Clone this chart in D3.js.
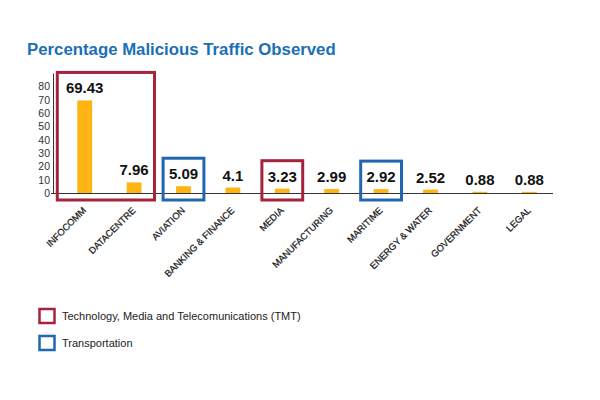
<!DOCTYPE html>
<html><head><meta charset="utf-8">
<script src="https://cdn.jsdelivr.net/npm/d3@7"></script>
<style>body{margin:0;background:#fff;}svg{display:block;font-family:"Liberation Sans",Arial,sans-serif;}</style>
</head><body>
<svg id="c" width="600" height="400"></svg>
<script>
const categories = ["INFOCOMM","DATACENTRE","AVIATION","BANKING & FINANCE","MEDIA","MANUFACTURING","MARITIME","ENERGY & WATER","GOVERNMENT","LEGAL"];
const values = [69.43,7.96,5.09,4.1,3.23,2.99,2.92,2.52,0.88,0.88];
const yTicks = [0,10,20,30,40,50,60,70,80];
const groupNames = ["Technology, Media and Telecomunications (TMT)","Transportation"];
const boxGroups = [["INFOCOMM","DATACENTRE"],["AVIATION"],["MEDIA"],["MARITIME"]];
const boxGroupType = [0,1,0,1];

const colors = ["#a4243b","#2166b0"];
const svg = d3.select("#c");
const x = d3.scaleBand().domain(categories).range([60,554]).paddingInner(0.7).paddingOuter(0.35);
const y = d3.scaleLinear().domain([0,90]).range([193,73]);

svg.append("text").attr("x",27).attr("y",55).attr("fill","#1a6fb5")
  .attr("font-weight","bold").attr("font-size",16.8).text("Percentage Malicious Traffic Observed");

// y axis
const ya = svg.append("g").attr("transform","translate(53,0)")
  .call(d3.axisLeft(y).tickValues(yTicks).tickSize(0).tickPadding(3));
ya.select(".domain").attr("stroke","#333");
ya.selectAll("text").attr("font-size",10.5).attr("fill","#333").attr("font-family","Liberation Sans, Arial, sans-serif");

// baseline
const xa = svg.append("g").attr("transform","translate(0,193)")
  .call(d3.axisBottom(x).tickSize(0).tickFormat(""));
xa.select(".domain").attr("d","M51,0.5H553").attr("stroke","#333");

// bars
svg.selectAll("rect.bar").data(categories).join("rect").attr("class","bar")
  .attr("x",d=>x(d)).attr("width",x.bandwidth())
  .attr("y",(d,i)=>y(values[i])).attr("height",(d,i)=>y(0)-y(values[i]))
  .attr("fill","#fdb414");

// value labels
svg.selectAll("text.val").data(categories).join("text").attr("class","val")
  .attr("x",d=>x(d)+x.bandwidth()/2).attr("y",(d,i)=>y(values[i])-7)
  .attr("text-anchor","middle").attr("font-weight","bold").attr("font-size",15).attr("fill","#111")
  .text((d,i)=>values[i]);

// category labels
svg.selectAll("text.cat").data(categories).join("text").attr("class","cat")
  .attr("transform",d=>`translate(${x(d)+x.bandwidth()/2+2},211) rotate(-45)`)
  .attr("text-anchor","end").attr("font-size",9.3).attr("fill","#1a1a1a")
  .attr("stroke","#1a1a1a").attr("stroke-width",0.25).text(d=>d);

// boxes
boxGroups.forEach((g,i)=>{
  const vmax = d3.max(g,c=>values[categories.indexOf(c)]);
  const x0 = x(g[0]) - (g.length>1?20:13);
  const x1 = x(g[g.length-1]) + x.bandwidth() + 13;
  const top = y(vmax) - 28;
  svg.append("rect").attr("x",x0).attr("y",top).attr("width",x1-x0).attr("height",y(0)+7-top)
    .attr("fill","none").attr("stroke",colors[boxGroupType[i]]).attr("stroke-width",3);
});

// legend
groupNames.forEach((n,i)=>{
  const ly = 309 + i*27;
  svg.append("rect").attr("x",39.5).attr("y",ly).attr("width",15).attr("height",14)
    .attr("fill","none").attr("stroke",colors[i]).attr("stroke-width",2.5);
  svg.append("text").attr("x",62).attr("y",ly+11).attr("font-size",11).attr("fill","#222").text(n);
});
</script>
</body></html>
